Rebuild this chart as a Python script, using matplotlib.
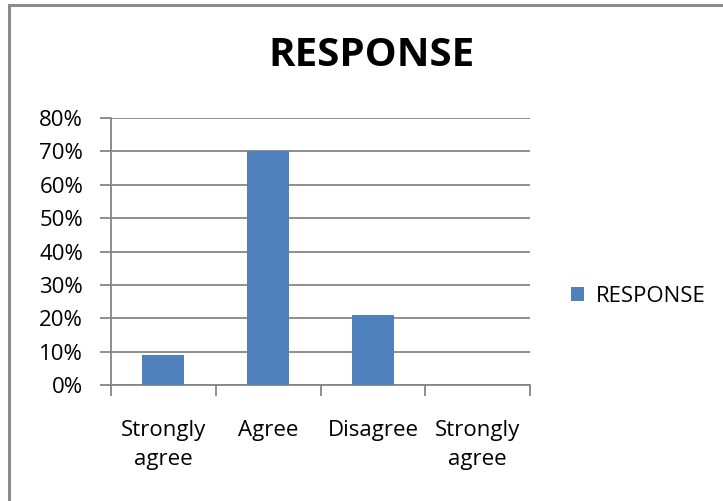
import matplotlib.pyplot as plt
from matplotlib.patches import Rectangle
from matplotlib.ticker import PercentFormatter
import numpy as np

# Survey data
categories = ["Strongly\nagree", "Agree", "Disagree", "Strongly\nagree"]
response = [0.09, 0.70, 0.21, 0.0]
y_ticks = [0.0, 0.1, 0.2, 0.3, 0.4, 0.5, 0.6, 0.7, 0.8]

plt.rcParams['font.family'] = ['Open Sans', 'DejaVu Sans']
grid_col = "#868686"
fs = 16

fig = plt.figure(figsize=(7.23, 5.01), dpi=100)
ax = fig.add_axes([111 / 723, 116 / 501, 419 / 723, 267 / 501])

x = np.arange(len(categories))
ax.bar(x, response, width=0.4, color="#4F81BD", label="RESPONSE", zorder=3)

ax.set_xlim(-0.5, len(categories) - 0.5)
ax.set_ylim(0, 0.8)
ax.set_yticks(y_ticks)
ax.yaxis.set_major_formatter(PercentFormatter(1.0, decimals=0))
ax.yaxis.grid(True, color=grid_col, linewidth=1.3, zorder=0)

ax.set_xticks(x)
ax.set_xticklabels(categories, fontsize=fs, linespacing=1.5)
ax.set_xticks(np.arange(-0.5, len(categories)), minor=True)
ax.tick_params(axis='x', which='major', length=0, pad=25)
ax.tick_params(axis='x', which='minor', length=8, width=1.3, color=grid_col)
ax.tick_params(axis='y', length=8, width=1.3, color=grid_col, labelsize=fs, pad=12)

for side in ["top", "right"]:
    ax.spines[side].set_visible(False)
for side in ["left", "bottom"]:
    ax.spines[side].set_color(grid_col)
    ax.spines[side].set_linewidth(1.3)

fig.text(372 / 723, 1 - 56 / 501, "RESPONSE", ha="center", va="center",
         fontsize=29, fontweight="bold")

ax.legend(loc="center left", bbox_to_anchor=(551 / 723, 1 - 296 / 501),
          bbox_transform=fig.transFigure, frameon=False, fontsize=fs,
          handlelength=0.6, handleheight=0.6, handletextpad=0.5)

# frame around the chart
fig.patches.append(Rectangle((8.5 / 723, -0.1), 1.2, 1 - 4.5 / 501 + 0.1,
                             transform=fig.transFigure, fill=False,
                             edgecolor="#8c8c8c", linewidth=2.2))

fig.savefig("out.png", dpi=100)
